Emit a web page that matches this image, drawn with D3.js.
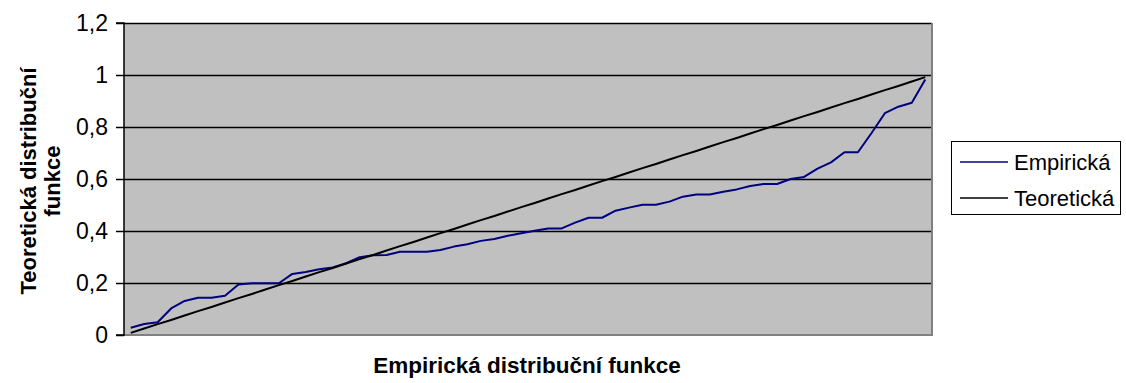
<!DOCTYPE html>
<html>
<head>
<meta charset="utf-8">
<script src="https://cdn.jsdelivr.net/npm/d3@7"></script>
<style>
  html, body { margin: 0; padding: 0; background: #fff; }
  svg { display: block; font-family: "Liberation Sans", Arial, sans-serif; }
</style>
</head>
<body>
<svg id="chart" width="1126" height="383"></svg>
<script>
// Ordered observations (1..60) on the category axis
const categories = d3.range(1, 61);

// Empirical distribution values
const empiricka = [
  0.028, 0.042, 0.049, 0.102, 0.131, 0.143, 0.143, 0.151, 0.194, 0.199,
  0.199, 0.199, 0.235, 0.242, 0.253, 0.260, 0.276, 0.299, 0.307, 0.308,
  0.320, 0.320, 0.320, 0.327, 0.340, 0.349, 0.362, 0.369, 0.382, 0.391,
  0.401, 0.410, 0.410, 0.432, 0.451, 0.451, 0.478, 0.490, 0.501, 0.501,
  0.513, 0.532, 0.540, 0.540, 0.551, 0.560, 0.573, 0.581, 0.581, 0.600,
  0.608, 0.640, 0.664, 0.703, 0.703, 0.776, 0.853, 0.878, 0.893, 0.983
];

// Theoretical distribution values
const teoreticka = [
  0.008, 0.025, 0.042, 0.058, 0.075, 0.092, 0.108, 0.125, 0.142, 0.158,
  0.175, 0.192, 0.208, 0.225, 0.242, 0.258, 0.275, 0.292, 0.308, 0.325,
  0.342, 0.358, 0.375, 0.392, 0.408, 0.425, 0.442, 0.458, 0.475, 0.492,
  0.508, 0.525, 0.542, 0.558, 0.575, 0.592, 0.608, 0.625, 0.642, 0.658,
  0.675, 0.692, 0.708, 0.725, 0.742, 0.758, 0.775, 0.792, 0.808, 0.825,
  0.842, 0.858, 0.875, 0.892, 0.908, 0.925, 0.942, 0.958, 0.975, 0.992
];

const yTicks = [0, 0.2, 0.4, 0.6, 0.8, 1, 1.2];
const yTickLabels = ["0", "0,2", "0,4", "0,6", "0,8", "1", "1,2"];

const seriesNames = ["Empirická", "Teoretická"];
const seriesColors = ["#000080", "#000000"];

const xTitle = "Empirická distribuční funkce";
const yTitleLines = ["Teoretická distribuční", "funkce"];

const plot = { left: 124, right: 932, top: 23, bottom: 335 };

const svg = d3.select("#chart");

const x = d3.scalePoint()
  .domain(categories)
  .range([plot.left, plot.right])
  .padding(0.5);

const y = d3.scaleLinear()
  .domain([0, 1.2])
  .range([plot.bottom, plot.top]);

// Plot area background
svg.append("rect")
  .attr("x", plot.left)
  .attr("y", plot.top)
  .attr("width", plot.right - plot.left)
  .attr("height", plot.bottom - plot.top)
  .attr("fill", "#c0c0c0");

// Horizontal gridlines
svg.append("g")
  .selectAll("line")
  .data(yTicks.filter(d => d > 0))
  .join("line")
  .attr("x1", plot.left)
  .attr("x2", plot.right)
  .attr("y1", d => Math.round(y(d)) + 0.5)
  .attr("y2", d => Math.round(y(d)) + 0.5)
  .attr("stroke", "#000")
  .attr("stroke-width", 1.6);

// Right and bottom frame of the plot area
svg.append("path")
  .attr("d", `M${plot.right},${plot.top}V${plot.bottom}H${plot.left}`)
  .attr("fill", "none")
  .attr("stroke", "#808080")
  .attr("stroke-width", 2);

// Value axis
const yAxis = d3.axisLeft(y)
  .tickValues(yTicks)
  .tickFormat((d, i) => yTickLabels[i])
  .tickSize(8)
  .tickPadding(8);

const gy = svg.append("g")
  .attr("transform", `translate(${plot.left},0)`)
  .call(yAxis);
gy.select(".domain").attr("stroke", "#000").attr("stroke-width", 1.5)
  .attr("d", `M-8,${plot.top}H0V${plot.bottom}H-8`);
gy.selectAll(".tick line").attr("stroke", "#000").attr("stroke-width", 1.5);
gy.selectAll(".tick text")
  .attr("fill", "#000")
  .style("font-size", "23px")
  .style("font-family", "'Liberation Sans', Arial, sans-serif");

// Series lines
const line = d3.line()
  .x((d, i) => x(categories[i]))
  .y(d => y(d));

[empiricka, teoreticka].forEach((vals, k) => {
  svg.append("path")
    .datum(vals)
    .attr("d", line)
    .attr("fill", "none")
    .attr("stroke", seriesColors[k])
    .attr("stroke-width", 2)
    .attr("stroke-linejoin", "round");
});

// Axis titles
svg.append("text")
  .attr("x", 527)
  .attr("y", 373)
  .attr("text-anchor", "middle")
  .attr("font-weight", "bold")
  .attr("font-size", 22.5)
  .text(xTitle);

const yTitle = svg.append("text")
  .attr("transform", "translate(36,181) rotate(-90)")
  .attr("text-anchor", "middle")
  .attr("font-weight", "bold")
  .attr("font-size", 22);
yTitle.selectAll("tspan")
  .data(yTitleLines)
  .join("tspan")
  .attr("x", 0)
  .attr("y", (d, i) => i * 24)
  .text(d => d);

// Legend
const legend = svg.append("g");
legend.append("rect")
  .attr("x", 951.5)
  .attr("y", 141.5)
  .attr("width", 169)
  .attr("height", 73)
  .attr("fill", "#fff")
  .attr("stroke", "#000")
  .attr("stroke-width", 1);

const items = legend.selectAll("g.item")
  .data(seriesNames)
  .join("g")
  .attr("class", "item")
  .attr("transform", (d, i) => `translate(0,${162 + i * 36})`);
items.append("line")
  .attr("x1", 960)
  .attr("x2", 1008)
  .attr("y1", 0)
  .attr("y2", 0)
  .attr("stroke", (d, i) => seriesColors[i])
  .attr("stroke-width", 1.5);
items.append("text")
  .attr("x", 1014)
  .attr("y", 8)
  .attr("font-size", 22)
  .attr("fill", "#000")
  .text(d => d);
</script>
</body>
</html>
